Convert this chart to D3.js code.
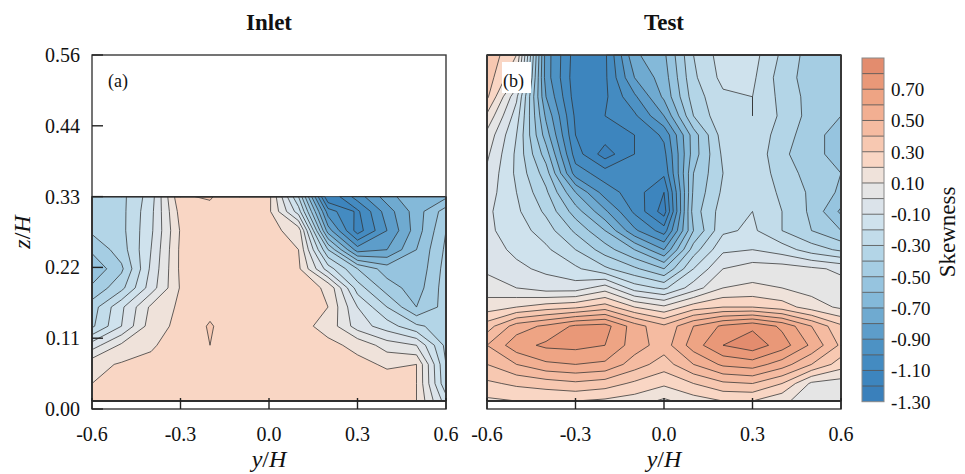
<!DOCTYPE html>
<html><head><meta charset="utf-8">
<script src="https://cdn.jsdelivr.net/npm/d3@7"></script>
<style>body{margin:0;background:#fff}svg text{font-family:"Liberation Serif","Times New Roman",serif;fill:#111}</style>
</head><body>
<svg id="chart" width="965" height="474"></svg>
<script>
// ---------------- data ----------------
const yHCols = [-0.6,-0.5,-0.4,-0.3,-0.2,-0.1,0,0.1,0.2,0.3,0.4,0.5,0.6];
const xTicks = [-0.6,-0.3,0,0.3,0.6];
const xTickLabels = ["-0.6","-0.3","0.0","0.3","0.6"];
const zTicks = [0,1/9,2/9,3/9,4/9,5/9];
const zTickLabels = ["0.00","0.11","0.22","0.33","0.44","0.56"];
const levelStart = -1.3, levelStep = 0.1, levelCount = 22;
const cbTicks = [-1.3,-1.1,-0.9,-0.7,-0.5,-0.3,-0.1,0.1,0.3,0.5,0.7];
const cbTickLabels = ["-1.30","-1.10","-0.90","-0.70","-0.50","-0.30","-0.10","0.10","0.30","0.50","0.70"];
const bandColors = ["#3a80bb","#3d85be","#448bc1","#4d92c4","#5d9dca","#6faad0","#84b9d9","#96c4df","#a5cde3","#b3d5e7","#c2dcea","#cfe2ed","#dbe3ea","#e5e5e5","#efe2da","#f9d6c4","#f7c8b1","#f5bba1","#f2af92","#eea484","#e99878","#e38c6e"];

// Inlet: rows from top (z = 1/3) to bottom (z = 0.0125)
const inletZ = [0.3333,0.31,0.28,0.25,0.22,0.19,0.16,0.13,0.10,0.07,0.04,0.0125];
const inletSkew = [
  [-0.35,-0.33,-0.15,0.29,0.31,0.22,0.23,-0.30,-1.20,-0.95,-0.75,-0.60,-0.62],
  [-0.35,-0.33,-0.13,0.24,0.27,0.21,0.22,-0.15,-0.95,-1.12,-0.85,-0.65,-0.45],
  [-0.38,-0.33,-0.12,0.21,0.22,0.21,0.23, 0.16,-0.75,-1.15,-0.90,-0.65,-0.40],
  [-0.48,-0.35,-0.10,0.22,0.25,0.23,0.23, 0.20,-0.40,-0.85,-0.80,-0.60,-0.38],
  [-0.58,-0.42,-0.08,0.22,0.26,0.24,0.24, 0.22,-0.15,-0.40,-0.55,-0.58,-0.36],
  [-0.48,-0.33,-0.05,0.21,0.26,0.24,0.24, 0.23, 0.19,-0.25,-0.45,-0.55,-0.35],
  [-0.35,-0.12, 0.12,0.22,0.27,0.24,0.24, 0.23, 0.20,-0.10,-0.30,-0.50,-0.36],
  [-0.32,-0.10, 0.15,0.23,0.31,0.23,0.23, 0.23, 0.17,-0.05,-0.15,-0.28,-0.35],
  [-0.05, 0.12, 0.19,0.24,0.30,0.23,0.23, 0.23, 0.22, 0.18, 0.05, 0.00,-0.33],
  [ 0.17, 0.21, 0.22,0.24,0.26,0.23,0.23, 0.23, 0.22, 0.22, 0.19, 0.20,-0.30],
  [ 0.20, 0.21, 0.22,0.23,0.24,0.23,0.23, 0.22, 0.22, 0.23, 0.23, 0.20,-0.28],
  [ 0.20, 0.21, 0.22,0.22,0.22,0.22,0.22, 0.22, 0.22, 0.22, 0.22, 0.20,-0.15]
];

// Test: rows from top (z = 0.556) to bottom (z = 0.0125)
const testZ = [0.5556,0.52,0.49,0.46,0.43,0.40,0.37,0.34,0.31,0.28,0.25,0.22,0.19,0.16,0.13,0.10,0.07,0.04,0.0125];
const testSkew = [
  [ 0.38, 0.20,-0.85,-1.15,-1.12,-0.72,-0.62,-0.30,-0.15,-0.16,-0.32,-0.45,-0.48],
  [ 0.36, 0.10,-0.85,-1.16,-1.12,-0.80,-0.65,-0.32,-0.17,-0.18,-0.35,-0.45,-0.50],
  [ 0.32,-0.08,-0.80,-1.15,-1.12,-0.92,-0.68,-0.35,-0.22,-0.20,-0.33,-0.44,-0.48],
  [ 0.18,-0.15,-0.72,-1.12,-1.10,-1.02,-0.80,-0.40,-0.22,-0.20,-0.32,-0.44,-0.50],
  [ 0.07,-0.20,-0.65,-1.10,-1.15,-1.10,-0.98,-0.55,-0.25,-0.22,-0.35,-0.46,-0.55],
  [ 0.02,-0.22,-0.55,-1.05,-1.25,-1.10,-1.03,-0.55,-0.28,-0.22,-0.38,-0.46,-0.55],
  [-0.02,-0.22,-0.45,-0.95,-1.05,-1.08,-1.08,-0.50,-0.30,-0.22,-0.35,-0.44,-0.50],
  [-0.05,-0.20,-0.38,-0.70,-0.95,-1.05,-1.20,-0.48,-0.28,-0.22,-0.32,-0.42,-0.52],
  [-0.08,-0.18,-0.32,-0.55,-0.78,-1.02,-1.25,-0.45,-0.25,-0.20,-0.30,-0.42,-0.62],
  [-0.08,-0.15,-0.25,-0.42,-0.60,-0.88,-1.05,-0.50,-0.22,-0.18,-0.30,-0.40,-0.50],
  [-0.06,-0.12,-0.18,-0.30,-0.45,-0.60,-0.80,-0.35,-0.12,-0.10,-0.15,-0.25,-0.32],
  [-0.02,-0.08,-0.12,-0.18,-0.28,-0.38,-0.50,-0.20, 0.00, 0.05, 0.05, 0.02,-0.02],
  [ 0.05, 0.00,-0.05,-0.05, 0.05,-0.15,-0.22,-0.05, 0.10, 0.12, 0.10, 0.06, 0.04],
  [ 0.15, 0.20, 0.25, 0.28, 0.35, 0.20, 0.12, 0.25, 0.30, 0.30, 0.25, 0.15, 0.08],
  [ 0.35, 0.55, 0.62, 0.72, 0.74, 0.55, 0.42, 0.60, 0.72, 0.78, 0.68, 0.50, 0.32],
  [ 0.50, 0.66, 0.72, 0.73, 0.70, 0.55, 0.45, 0.65, 0.80, 0.86, 0.75, 0.58, 0.38],
  [ 0.40, 0.50, 0.58, 0.60, 0.58, 0.45, 0.35, 0.50, 0.62, 0.65, 0.55, 0.40, 0.25],
  [ 0.28, 0.32, 0.35, 0.38, 0.35, 0.28, 0.22, 0.30, 0.38, 0.40, 0.30, 0.08, 0.05],
  [ 0.18, 0.20, 0.20, 0.20, 0.18, 0.15, 0.08, 0.15, 0.20, 0.20, 0.12, 0.05, 0.03]
];

// ---------------- drawing ----------------
const svg = d3.select("#chart");
const yTop = 55, yBot = 409;
const zScale = d3.scaleLinear().domain([0, 5/9]).range([yBot, yTop]);
const thresholds = d3.range(levelCount).map(i => Math.round((levelStart + i*levelStep)*10)/10);

const panels = [
  {x0: 92, x1: 446, title: "Inlet", tag: "(a)", grid: inletSkew, rows: inletZ, yLabels: true},
  {x0: 487, x1: 841, title: "Test", tag: "(b)", grid: testSkew, rows: testZ, yLabels: false}
];

panels.forEach((p, pi) => {
  const xScale = d3.scaleLinear().domain([-0.6, 0.6]).range([p.x0, p.x1]);
  const g = svg.append("g");
  const ncol = yHCols.length, nrow = p.rows.length;
  const colToY = d3.scaleLinear().domain(d3.range(ncol)).range(yHCols);
  const rowToZ = d3.scaleLinear().domain(d3.range(nrow)).range(p.rows);
  // d3.contours places value i at coordinate i + 0.5
  const proj = d3.geoTransform({point(px, py) {
    const ci = Math.max(0, Math.min(ncol - 1, px - 0.5));
    const ri = Math.max(0, Math.min(nrow - 1, py - 0.5));
    this.stream.point(xScale(colToY(ci)), zScale(rowToZ(ri)));
  }});
  const path = d3.geoPath(proj);
  const values = p.grid.flat();
  const fillThr = thresholds.map((t, i) => i === 0 ? -100 : t);
  const cs = d3.contours().size([ncol, nrow]).thresholds(fillThr)(values);

  g.append("g").selectAll("path").data(cs).join("path")
    .attr("d", path).attr("fill", (d, i) => bandColors[i]).attr("stroke", "none");
  g.append("g").selectAll("path").data(cs.slice(1)).join("path")
    .attr("d", path).attr("fill", "none").attr("stroke", "#303030").attr("stroke-width", 0.75)
    .attr("stroke-linejoin", "round");

  // frame
  g.append("rect").attr("x", p.x0).attr("y", yTop).attr("width", p.x1 - p.x0).attr("height", yBot - yTop)
    .attr("fill", "none").attr("stroke", "#3a3a3a").attr("stroke-width", 1.4);

  // x ticks (inward)
  xTicks.forEach((t, i) => {
    g.append("line").attr("x1", xScale(t)).attr("x2", xScale(t)).attr("y1", yBot).attr("y2", yBot - 11)
      .attr("stroke", "#222").attr("stroke-width", 1.4);
    g.append("text").attr("x", xScale(t)).attr("y", 441).attr("text-anchor", "middle")
      .attr("font-size", 20).text(xTickLabels[i]);
  });
  if (p.yLabels) {
    zTicks.forEach((t, i) => {
      g.append("line").attr("x1", p.x0).attr("x2", p.x0 + 11).attr("y1", zScale(t)).attr("y2", zScale(t))
        .attr("stroke", "#222").attr("stroke-width", 1.4);
      g.append("text").attr("x", 80).attr("y", zScale(t) + 7).attr("text-anchor", "end")
        .attr("font-size", 20).text(zTickLabels[i]);
    });
  }
  // tag
  if (pi === 1) {
    g.append("rect").attr("x", 502).attr("y", 62).attr("width", 29).attr("height", 31).attr("fill", "#fff");
  }
  g.append("text").attr("x", p.x0 + 16).attr("y", 87).attr("font-size", 18).text(p.tag);
  // title
  g.append("text").attr("x", (p.x0 + p.x1) / 2).attr("y", 30).attr("text-anchor", "middle")
    .attr("font-size", 23).attr("font-weight", "bold").text(p.title);
  // x axis title
  const xt = g.append("text").attr("x", (p.x0 + p.x1) / 2).attr("y", 467).attr("text-anchor", "middle").attr("font-size", 24);
  xt.append("tspan").attr("font-style", "italic").text("y");
  xt.append("tspan").text("/");
  xt.append("tspan").attr("font-style", "italic").text("H");
});

// z axis title
const zt = svg.append("text").attr("transform", "translate(30,232) rotate(-90)").attr("text-anchor", "middle").attr("font-size", 24);
zt.append("tspan").attr("font-style", "italic").text("z");
zt.append("tspan").text("/");
zt.append("tspan").attr("font-style", "italic").text("H");

// colorbar
const cbX = 862, cbW = 22;
const cScale = d3.scaleLinear().domain([levelStart, levelStart + levelCount*levelStep]).range([401.7, 58]);
const cb = svg.append("g");
cb.selectAll("rect.band").data(thresholds).join("rect").attr("class", "band")
  .attr("x", cbX).attr("width", cbW)
  .attr("y", t => cScale(t + levelStep)).attr("height", t => cScale(t) - cScale(t + levelStep))
  .attr("fill", (t, i) => bandColors[i]);
cb.selectAll("line.sep").data(thresholds.slice(1)).join("line").attr("class", "sep")
  .attr("x1", cbX).attr("x2", cbX + cbW).attr("y1", t => cScale(t)).attr("y2", t => cScale(t))
  .attr("stroke", "#4a4a4a").attr("stroke-width", 0.8);
cb.append("rect").attr("x", cbX).attr("y", cScale(levelStart + levelCount*levelStep)).attr("width", cbW)
  .attr("height", cScale(levelStart) - cScale(levelStart + levelCount*levelStep))
  .attr("fill", "none").attr("stroke", "#888").attr("stroke-width", 1);
cb.selectAll("text.cbl").data(cbTicks).join("text").attr("class", "cbl")
  .attr("x", 891).attr("y", t => cScale(t) + 7).attr("font-size", 19).text((t, i) => cbTickLabels[i]);
svg.append("text").attr("transform", "translate(955,232) rotate(-90)").attr("text-anchor", "middle")
  .attr("font-size", 23).text("Skewness");
</script>
</body></html>
